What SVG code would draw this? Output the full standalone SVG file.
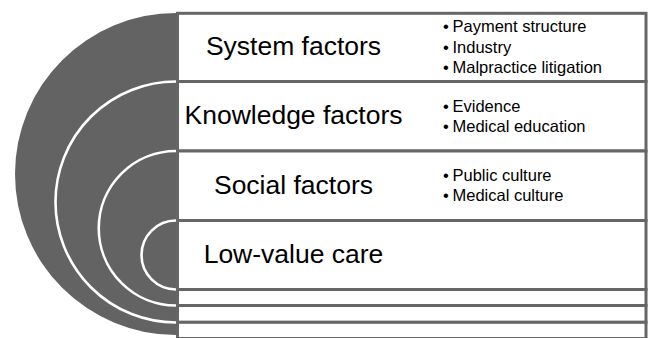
<svg xmlns="http://www.w3.org/2000/svg" width="648" height="338" viewBox="0 0 648 338">
<style>
.row{fill:#ffffff;stroke:#666666;stroke-width:3}
.arc{fill:none;stroke:#ffffff;stroke-width:2.6}
.title{font-family:"Liberation Sans",Arial,sans-serif;font-size:26.5px;fill:#000000;text-anchor:middle}
.item{font-family:"Liberation Sans",Arial,sans-serif;font-size:16.5px;fill:#000000}
</style>
<rect width="648" height="338" fill="#ffffff"/>
<g id="rings">
<path d="M176,13 A161,161 0 0 0 176,335 Z" fill="#636363"/>
<path class="arc" d="M176,81.5 A120.5,120.5 0 0 0 176,322.5"/>
<path class="arc" d="M176,151 A77.25,77.25 0 0 0 176,305.5"/>
<path class="arc" d="M176,220.5 A34.5,34.5 0 0 0 176,289.5"/>
</g>
<g id="system">
<rect class="row" x="177.5" y="13.3" width="468.5" height="68.2"/>
<text class="title" x="293.5" y="55">System factors</text>
<text class="item" x="443" y="32">•<tspan x="452.5">Payment structure</tspan></text>
<text class="item" x="443" y="52.5">•<tspan x="452.5">Industry</tspan></text>
<text class="item" x="443" y="73">•<tspan x="452.5">Malpractice litigation</tspan></text>
</g>
<g id="knowledge">
<rect class="row" x="177.5" y="81.5" width="468.5" height="69.5"/>
<text class="title" x="293.5" y="124.3">Knowledge factors</text>
<text class="item" x="443" y="111.7">•<tspan x="452.5">Evidence</tspan></text>
<text class="item" x="443" y="131.7">•<tspan x="452.5">Medical education</tspan></text>
</g>
<g id="social">
<rect class="row" x="177.5" y="151" width="468.5" height="69.5"/>
<text class="title" x="293.5" y="194">Social factors</text>
<text class="item" x="443" y="180.7">•<tspan x="452.5">Public culture</tspan></text>
<text class="item" x="443" y="200.7">•<tspan x="452.5">Medical culture</tspan></text>
</g>
<g id="lowvalue">
<rect class="row" x="177.5" y="220.5" width="468.5" height="69"/>
<text class="title" x="293.5" y="262.7">Low-value care</text>
</g>
<g id="band1"><rect class="row" x="177.5" y="289.5" width="468.5" height="16"/></g>
<g id="band2"><rect class="row" x="177.5" y="305.5" width="468.5" height="16.8"/></g>
<g id="band3"><rect class="row" x="177.5" y="322.3" width="468.5" height="16.2"/></g>
<g id="connectors"></g>
</svg>
